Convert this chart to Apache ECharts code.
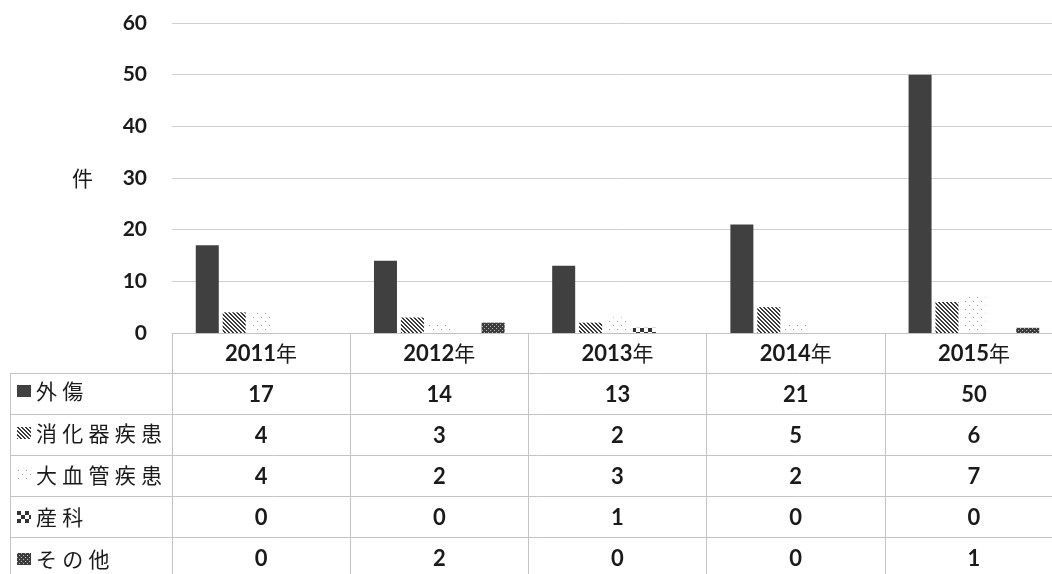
<!DOCTYPE html>
<html>
<head>
<meta charset="utf-8">
<script src="https://cdn.jsdelivr.net/npm/echarts@6/dist/echarts.min.js"></script>
<style>
  html, body { margin: 0; padding: 0; background: #fff; overflow: hidden; }
  #chart { width: 1063px; height: 574px; }
</style>
</head>
<body>
<div id="chart"></div>
<script>
// Cases per year by category
const categories = ['2011年', '2012年', '2013年', '2014年', '2015年'];
const seriesNames = ['外傷', '消化器疾患', '大血管疾患', '産科', 'その他'];
const trauma    = [17, 14, 13, 21, 50];
const digestive = [4, 3, 2, 5, 6];
const aortic    = [4, 2, 3, 2, 7];
const obstetric = [0, 0, 1, 0, 0];
const other     = [0, 2, 0, 0, 1];
const yMin = 0, yMax = 60, yStep = 10;

const seriesValues = [trauma, digestive, aortic, obstetric, other];

// Small canvas tiles used as fill patterns
function tile(size, draw) {
  const c = document.createElement('canvas');
  c.width = size; c.height = size;
  const ctx = c.getContext('2d');
  ctx.fillStyle = '#fff';
  ctx.fillRect(0, 0, size, size);
  draw(ctx, size);
  return { image: c, repeat: 'repeat' };
}
const fills = [
  '#404040',
  // downward diagonal stripes
  tile(4, (ctx) => {
    ctx.fillStyle = '#3a3a3a';
    for (let i = 0; i < 4; i++) {
      ctx.fillRect(i, i, 1, 1);
      ctx.fillRect((i + 1) % 4, i, 1, 1);
    }
  }),
  // sparse light dots
  tile(8, (ctx) => {
    ctx.fillStyle = '#9a9a9a';
    ctx.fillRect(1, 1, 1, 1);
    ctx.fillRect(5, 5, 1, 1);
  }),
  // checkerboard
  tile(8, (ctx) => {
    ctx.fillStyle = '#333';
    ctx.fillRect(0, 0, 4, 4);
    ctx.fillRect(4, 4, 4, 4);
  }),
  // dark with fine light dots
  tile(4, (ctx) => {
    ctx.fillStyle = '#3c3c3c';
    ctx.fillRect(0, 0, 4, 4);
    ctx.fillStyle = '#bbb';
    ctx.fillRect(0, 0, 1, 1);
    ctx.fillRect(2, 2, 1, 1);
  })
];

const chartW = 1063, chartH = 574;
const gridLeft = 172, gridTop = 23, axisY = 333;
const rowH = 41, tableLeft = 10, lineColor = '#c4c4c4';
const textColor = '#1a1a1a';
const numFont = 'Lato, "Liberation Sans", sans-serif';
const jpFont = '"Noto Sans CJK JP", sans-serif';

// Table rows drawn under each category label
const rich = {
  yr:  { fontFamily: numFont, fontWeight: 'bold', fontSize: 22, color: textColor, lineHeight: rowH },
  nen: { fontFamily: jpFont, fontSize: 21, color: textColor, lineHeight: rowH },
  v:   { fontFamily: numFont, fontWeight: 'bold', fontSize: 22, color: textColor, lineHeight: rowH }
};

// Horizontal rule lines of the table
const graphics = [];
for (let r = 0; r < seriesNames.length; r++) {
  const y = axisY + rowH * (r + 1) - 1;
  graphics.push({
    type: 'line', silent: true, z: 0,
    shape: { x1: tableLeft, y1: y + 0.5, x2: chartW, y2: y + 0.5 },
    style: { stroke: lineColor, lineWidth: 1 }
  });
}
graphics.push({
  type: 'line', silent: true, z: 0,
  shape: { x1: tableLeft + 0.5, y1: axisY + rowH - 1, x2: tableLeft + 0.5, y2: chartH },
  style: { stroke: lineColor, lineWidth: 1 }
});

const chart = echarts.init(document.getElementById('chart'), null, { renderer: 'canvas' });
chart.setOption({
  backgroundColor: '#fff',
  animation: false,
  grid: { left: gridLeft, right: 0, top: gridTop, bottom: chartH - axisY },
  legend: {
    orient: 'vertical',
    left: 17, top: 380.5,
    padding: 0,
    itemWidth: 14, itemHeight: 12,
    itemGap: rowH - 20,
    selectedMode: false,
    icon: 'rect',
    data: seriesNames,
    formatter: (name) => name.split('').join('\u2005'),
    textStyle: { fontFamily: jpFont, fontSize: 21, lineHeight: 20, color: textColor }
  },
  xAxis: {
    type: 'category',
    data: categories,
    axisLine: { lineStyle: { color: lineColor } },
    axisTick: { show: true, length: chartH - axisY, lineStyle: { color: lineColor } },
    axisLabel: {
      interval: 0, margin: 0,
      formatter: (val, i) => {
        const lines = ['{yr|' + val.replace('年', '') + '}{nen|年}'];
        seriesValues.forEach(arr => lines.push('{v|' + arr[i] + '}'));
        return lines.join('\n');
      },
      rich: rich
    }
  },
  yAxis: {
    type: 'value',
    min: yMin, max: yMax, interval: yStep,
    name: '件',
    nameLocation: 'middle',
    nameRotate: 0,
    nameGap: 79,
    nameTextStyle: { fontFamily: jpFont, fontSize: 21, color: textColor },
    axisLine: { show: false },
    axisTick: { show: false },
    splitLine: { lineStyle: { color: '#cfcfcf' } },
    axisLabel: { margin: 25, fontFamily: numFont, fontWeight: 'bold', fontSize: 21, color: textColor }
  },
  series: seriesNames.map((name, k) => ({
    name: name,
    type: 'bar',
    data: seriesValues[k],
    barWidth: 23,
    barGap: '17%',
    itemStyle: { color: fills[k] }
  })),
  graphic: graphics
});
</script>
</body>
</html>
